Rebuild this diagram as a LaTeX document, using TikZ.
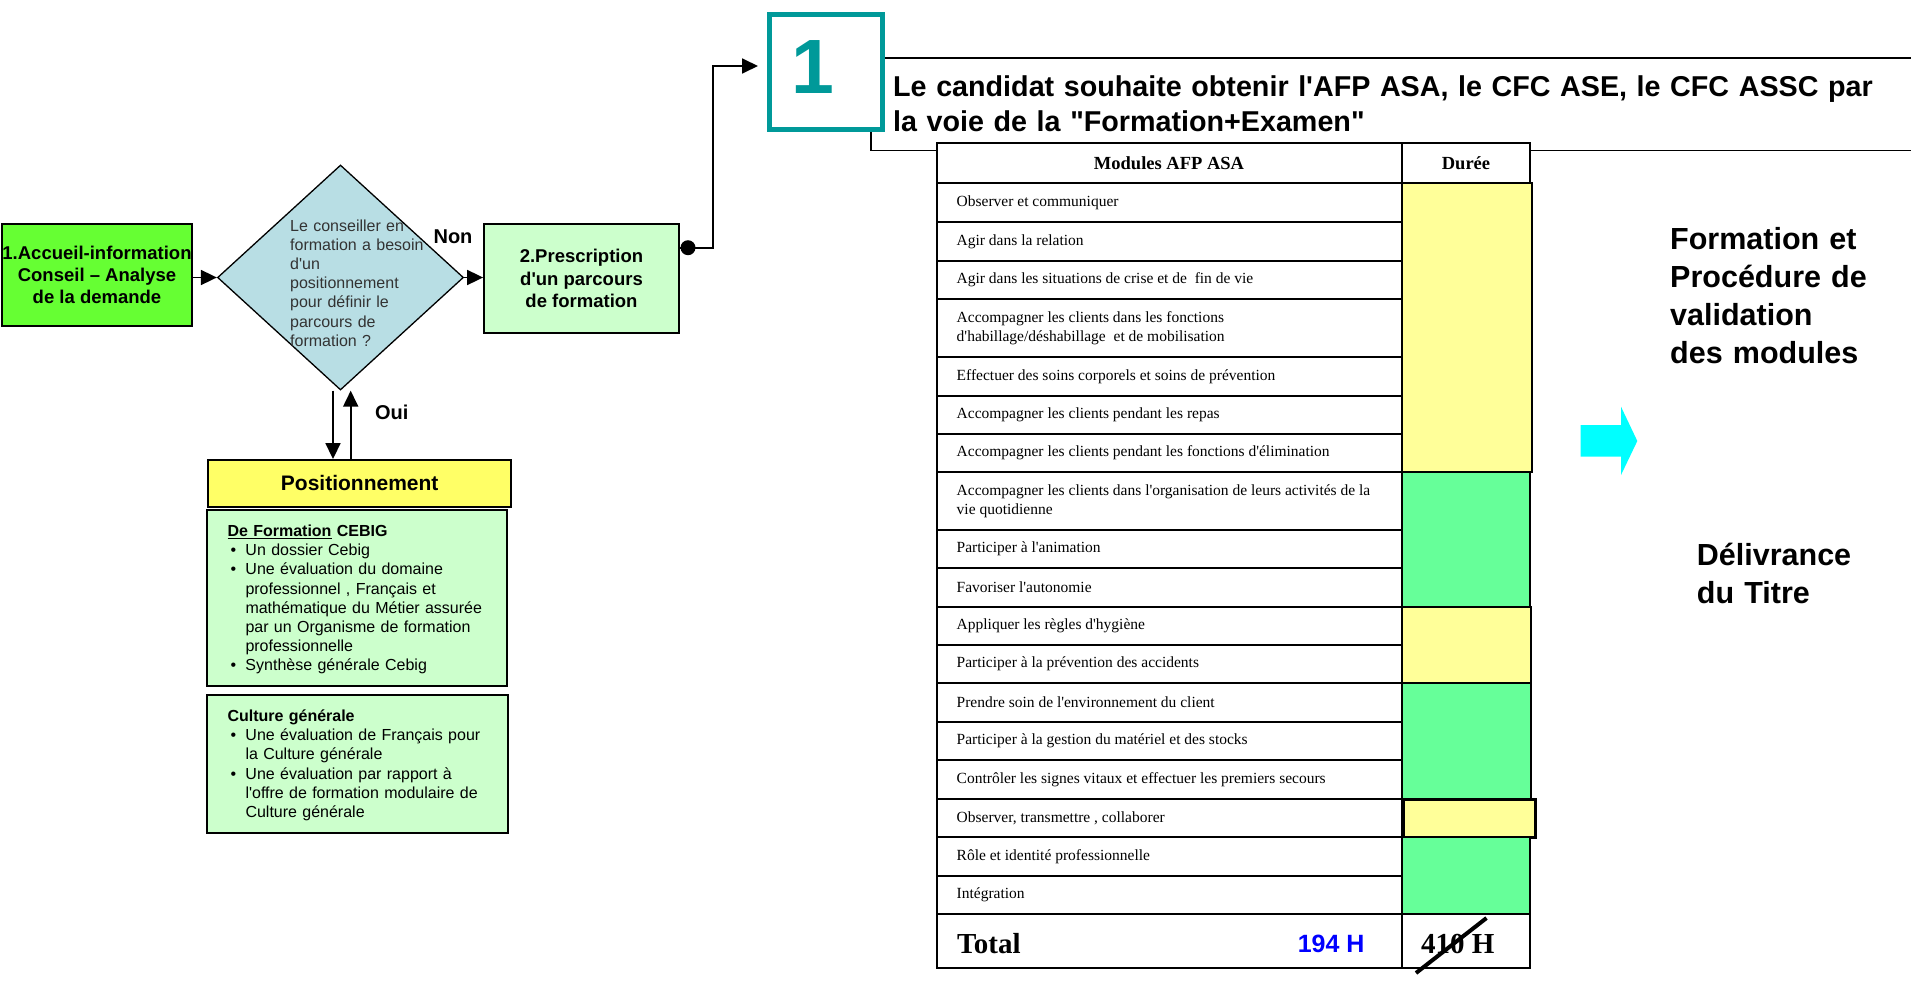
\documentclass[tikz,border=0pt]{standalone}
\usepackage{fontspec}
\setmainfont{Liberation Sans}
\newfontfamily\arial{Liberation Sans}
\newfontfamily\tnr{Liberation Serif}
\usetikzlibrary{arrows.meta,shapes.geometric,calc}
\definecolor{accgreen}{HTML}{66FF33}
\definecolor{lightgreen}{HTML}{CCFFCC}
\definecolor{decblue}{HTML}{B8DEE4}
\definecolor{posyellow}{HTML}{FFFF66}
\definecolor{tealc}{HTML}{009999}
\definecolor{tyellow}{HTML}{FFFF99}
\definecolor{tgreen}{HTML}{66FF99}
\definecolor{cyanc}{HTML}{00FFFF}
\definecolor{bluec}{HTML}{0000FF}
\newcommand{\myfs}[2]{\fontsize{#1pt}{#2pt}\selectfont}
\newcommand{\bul}{\makebox[18pt][l]{\hspace{3pt}•}}
\newcommand{\ind}{\hspace*{18pt}}
\newcommand{\trow}[4]{\draw[tline, fill=white] (937,#2) rectangle (1401.5,#3); \node[rowtxt] (#1) at (956.5,{(#2+#3)/2}) {#4};}
\newcommand{\dcell}[4]{\draw[tline, fill=#4] (1401.5,#2) rectangle (#1,#3);}
\begin{document}
\arial
\begin{tikzpicture}[x=1pt,y=-1pt,
  box/.style={draw, line width=1.8pt, inner sep=0pt, align=center},
  arr/.style={line width=1.8pt, -{Triangle[length=16pt,width=15pt]}},
  tline/.style={line width=2pt},
  rowtxt/.style={anchor=west, inner sep=0pt, align=left, font=\tnr\myfs{15.5}{19}},
  bultxt/.style={anchor=base west, inner sep=0pt, text width=278pt, align=left, font=\arial\myfs{16}{19.2}},
  bigtxt/.style={anchor=base west, inner sep=0pt, align=left, text width=260pt, font=\arial\bfseries\myfs{30.5}{38}},
  ]
\path[use as bounding box] (0,0) rectangle (1911,980);

% ---- title frame (behind) ----
\draw[line width=1.5pt, fill=white] (871,58) rectangle (1920,150.5);

% ---- left flow ----
\node[box, fill=accgreen, minimum width=190pt, minimum height=102pt, font=\arial\bfseries\myfs{18.5}{22}] (acc) at (97,275) {1.Accueil-information\\Conseil – Analyse\\de la demande};

\node[diamond, draw, line width=1.3pt, fill=decblue, inner sep=0pt, minimum width=246pt, minimum height=225pt] (dec) at (340.5,277.5) {};
\node[anchor=base west, inner sep=0pt, text width=150pt, align=left, text=black!80, font=\arial\myfs{16}{19.2}] (dectxt) at (290,231) {Le conseiller en\\formation a besoin\\d'un\\positionnement\\pour définir le\\parcours de\\formation ?};

\node[box, fill=lightgreen, minimum width=195pt, minimum height=109pt, font=\arial\bfseries\myfs{18.5}{22.5}] (pres) at (581.5,278.5) {2.Prescription\\d'un parcours\\de formation};

\node[font=\arial\bfseries\myfs{20}{24}] (non) at (453,236.7) {Non};
\node[font=\arial\bfseries\myfs{20}{24}] (oui) at (391.7,412) {Oui};

\node[box, fill=posyellow, minimum width=302.7pt, minimum height=46.7pt, font=\arial\bfseries\myfs{21}{25}] (pos) at (359.7,483.3) {Positionnement};

\node[box, fill=lightgreen, minimum width=300pt, minimum height=176pt] (cebig) at (357.3,598) {};
\node[bultxt] (cebigtxt) at (227.3,536.4) {\textbf{\underline{De Formation} CEBIG}\\\bul Un dossier Cebig\\\bul Une évaluation du domaine\\\ind professionnel , Français et\\\ind mathématique du Métier assurée\\\ind par un Organisme de formation\\\ind professionnelle\\\bul Synthèse générale Cebig};

\node[box, fill=lightgreen, minimum width=301pt, minimum height=138.3pt] (cult) at (357.8,764.2) {};
\node[bultxt] (culttxt) at (227.3,721.4) {\textbf{Culture générale}\\\bul Une évaluation de Français pour\\\ind la Culture générale\\\bul Une évaluation par rapport à\\\ind l'offre de formation modulaire de\\\ind Culture générale};

\draw[arr] (acc.east |- dec.west) -- (dec.west);
\draw[arr] (dec.east) -- (dec.east -| pres.west);
\coordinate (oa) at ($(dec.south)+(-7.5,0)$);
\coordinate (ob) at ($(dec.south)+(10.2,0)$);
\draw[arr] (oa) -- (oa |- pos.north);
\draw[arr] (ob |- pos.north) -- (ob);

\node[circle, fill=black, inner sep=0pt, minimum size=15pt] (dot) at (688,247.7) {};
\draw[line width=1.8pt] (pres.east |- dot.center) -- (dot.center);
\coordinate (oneIn) at (758,66);
\draw[arr] (dot.center) -- ++(25,0) |- (oneIn);

\node[draw=tealc, line width=5pt, fill=white, inner sep=0pt, minimum width=113pt, minimum height=115pt] (one) at (826,72) {};
\node[inner sep=0pt, text=tealc, font=\arial\bfseries\myfs{77}{80}] (onetxt) at (813,67.5) {1};

\node[anchor=base west, inner sep=0pt, text width=1010pt, align=left, font=\arial\bfseries\myfs{28.7}{35}] (title) at (893,96.7) {Le candidat souhaite obtenir l'AFP ASA, le CFC ASE, le CFC ASSC par\\la voie de la "Formation+Examen"};

% ---- table ----
\draw[tline, fill=white] (937,142.7) rectangle (1401.5,183.3);
\node[font=\tnr\bfseries\myfs{18.5}{22}] (hmod) at (1169,163) {Modules AFP ASA};
\draw[tline, fill=white] (1401.5,142.7) rectangle (1530,183.3);
\node[font=\tnr\bfseries\myfs{18.5}{22}] (hdur) at (1466,163) {Durée};

\trow{r1}{183.3}{222.3}{Observer et communiquer}
\trow{r2}{222.3}{260.7}{Agir dans la relation}
\trow{r3}{260.7}{299.3}{Agir dans les situations de crise et de\ \ fin de vie}
\trow{r4}{299.3}{357.3}{Accompagner les clients dans les fonctions\\d'habillage/déshabillage\ \ et de mobilisation}
\trow{r5}{357.3}{395.7}{Effectuer des soins corporels et soins de prévention}
\trow{r6}{395.7}{434}{Accompagner les clients pendant les repas}
\trow{r7}{434}{472.3}{Accompagner les clients pendant les fonctions d'élimination}
\trow{r8}{472.3}{530}{Accompagner les clients dans l'organisation de leurs activités de la\\vie quotidienne}
\trow{r9}{530}{568.3}{Participer à l'animation}
\trow{r10}{568.3}{606.7}{Favoriser l'autonomie}
\trow{r11}{606.7}{645}{Appliquer les règles d'hygiène}
\trow{r12}{645}{683.3}{Participer à la prévention des accidents}
\trow{r13}{683.3}{721.7}{Prendre soin de l'environnement du client}
\trow{r14}{721.7}{760}{Participer à la gestion du matériel et des stocks}
\trow{r15}{760}{799}{Contrôler les signes vitaux et effectuer les premiers secours}
\trow{r16}{799}{837.3}{Observer, transmettre , collaborer}
\trow{r17}{837.3}{875.7}{Rôle et identité professionnelle}
\trow{r18}{875.7}{914}{Intégration}

\dcell{1532}{183.3}{472.3}{tyellow}
\dcell{1530}{472.3}{606.7}{tgreen}
\dcell{1531}{606.7}{683.3}{tyellow}
\dcell{1531}{683.3}{799}{tgreen}
\draw[line width=3pt, fill=tyellow] (1403,799) rectangle (1535,837.3);
\dcell{1530}{837.3}{914}{tgreen}

\draw[tline, fill=white] (937,914) rectangle (1401.5,968.3);
\draw[tline, fill=white] (1401.5,914) rectangle (1530,968.3);
\node[anchor=base west, inner sep=0pt, font=\tnr\bfseries\myfs{29}{32}] (total) at (957,953) {Total};
\node[anchor=base west, inner sep=0pt, text=bluec, font=\arial\bfseries\myfs{25}{28}] (h194) at (1297.6,952) {194 H};
\node[anchor=base west, inner sep=0pt, font=\tnr\bfseries\myfs{29}{32}] (h410) at (1421,953) {410 H};
\draw[line width=4pt] (1416,973) -- (1486.5,918);

% ---- right side ----
\node[bigtxt] (formtxt) at (1670,249.3) {Formation et\\Procédure de\\validation\\des modules};
\fill[cyanc] (1580.7,425) -- (1621,425) -- (1621,406.7) -- (1637.3,441) -- (1621,475) -- (1621,456.7) -- (1580.7,456.7) -- cycle;
\node[bigtxt] (delivtxt) at (1696.7,565) {Délivrance\\du Titre};
\end{tikzpicture}
\end{document}
